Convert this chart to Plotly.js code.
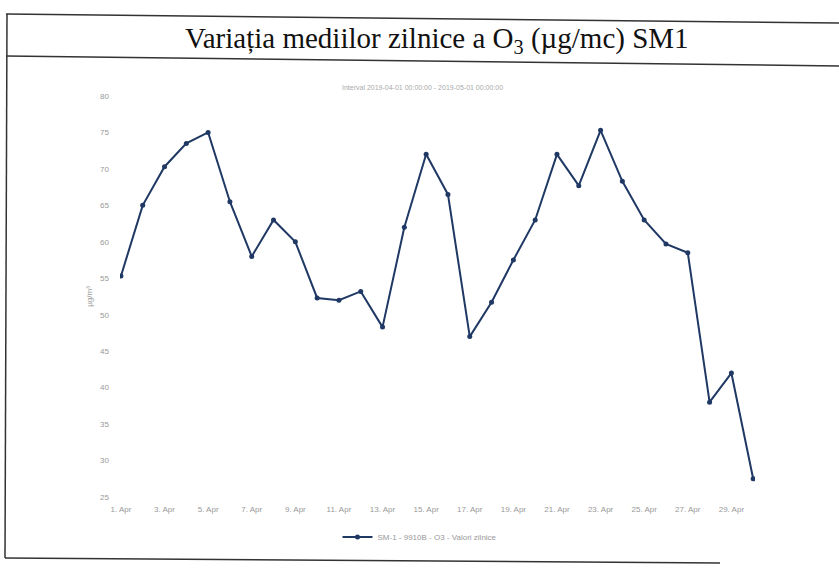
<!DOCTYPE html>
<html>
<head>
<meta charset="utf-8">
<script src="https://cdn.plot.ly/plotly-3.0.1.min.js"></script>
<style>
  html, body { margin: 0; padding: 0; background: #fff; }
  #chart { width: 839px; height: 576px; }
</style>
</head>
<body>
<div id="chart"></div>
<script>
// daily O3 averages, April 2019
var days = [];
for (var d = 1; d <= 30; d++) {
    days.push("2019-04-" + (d < 10 ? "0" + d : d));
}
var o3Values = [55.3, 65.0, 70.3, 73.5, 75.0, 65.5, 58.0, 63.0, 60.0, 52.3,
                52.0, 53.2, 48.3, 62.0, 72.0, 66.5, 47.0, 51.7, 57.5, 63.0,
                72.0, 67.7, 75.3, 68.3, 63.0, 59.7, 58.5, 38.0, 42.0, 27.5];
var yTicks = [25, 30, 35, 40, 45, 50, 55, 60, 65, 70, 75, 80];

var chartTitle = "Variația mediilor zilnice a O<sub>3</sub> (µg/mc) SM1";
var subTitle = "Interval 2019-04-01 00:00:00 - 2019-05-01 00:00:00";
var seriesName = "SM-1 - 9910B - O3 - Valori zilnice";

var W = 839, H = 576;
var m = {l: 120, r: 84, t: 96, b: 79};

// pixel -> paper coords
function px(x) { return (x - m.l) / (W - m.l - m.r); }
function py(y) { return 1 - (y - m.t) / (H - m.t - m.b); }

var trace = {
    x: days,
    y: o3Values,
    name: seriesName,
    mode: "lines+markers",
    type: "scatter",
    line: {color: "#1f3864", width: 2},
    marker: {color: "#1f3864", size: 5}
};

var frame = {type: "line", xref: "paper", yref: "paper", line: {color: "#333", width: 1.5}};
var small = {family: "Liberation Sans, Arial", size: 8, color: "#999"};

var layout = {
    width: W,
    height: H,
    margin: m,
    paper_bgcolor: "#fff",
    plot_bgcolor: "#fff",
    showlegend: true,
    legend: {
        orientation: "h",
        x: px(420), xanchor: "center",
        y: py(537), yanchor: "middle",
        font: small
    },
    xaxis: {
        type: "date",
        range: ["2019-03-31 23:00", "2019-04-30 02:00"],
        tick0: "2019-04-01",
        dtick: 2 * 86400000,
        tickformat: "%-d. %b",
        showgrid: false,
        zeroline: false,
        showline: false,
        ticklabelstandoff: 6,
        tickfont: small
    },
    yaxis: {
        range: [25, 80],
        tickvals: yTicks,
        showgrid: false,
        zeroline: false,
        showline: false,
        ticklabelstandoff: 10,
        tickfont: small,
        title: {text: "µg/m³", standoff: 6, font: small}
    },
    annotations: [
        {text: chartTitle, xref: "paper", yref: "paper",
         x: px(437), y: py(40), xanchor: "center", yanchor: "middle",
         showarrow: false,
         font: {family: "Liberation Serif, Times New Roman, serif", size: 29, color: "#111"}},
        {text: subTitle, xref: "paper", yref: "paper",
         x: px(422), y: py(88), xanchor: "center", yanchor: "middle",
         showarrow: false,
         font: {family: "Liberation Sans, Arial", size: 7, color: "#aaa"}}
    ],
    shapes: [
        Object.assign({}, frame, {x0: px(6), y0: py(14), x1: px(839), y1: py(23)}),
        Object.assign({}, frame, {x0: px(6), y0: py(56), x1: px(839), y1: py(66)}),
        Object.assign({}, frame, {x0: px(7), y0: py(14), x1: px(5), y1: py(558)}),
        Object.assign({}, frame, {x0: px(5), y0: py(558), x1: px(720), y1: py(563)})
    ]
};

Plotly.newPlot("chart", [trace], layout, {displayModeBar: false, staticPlot: true});
</script>
</body>
</html>
